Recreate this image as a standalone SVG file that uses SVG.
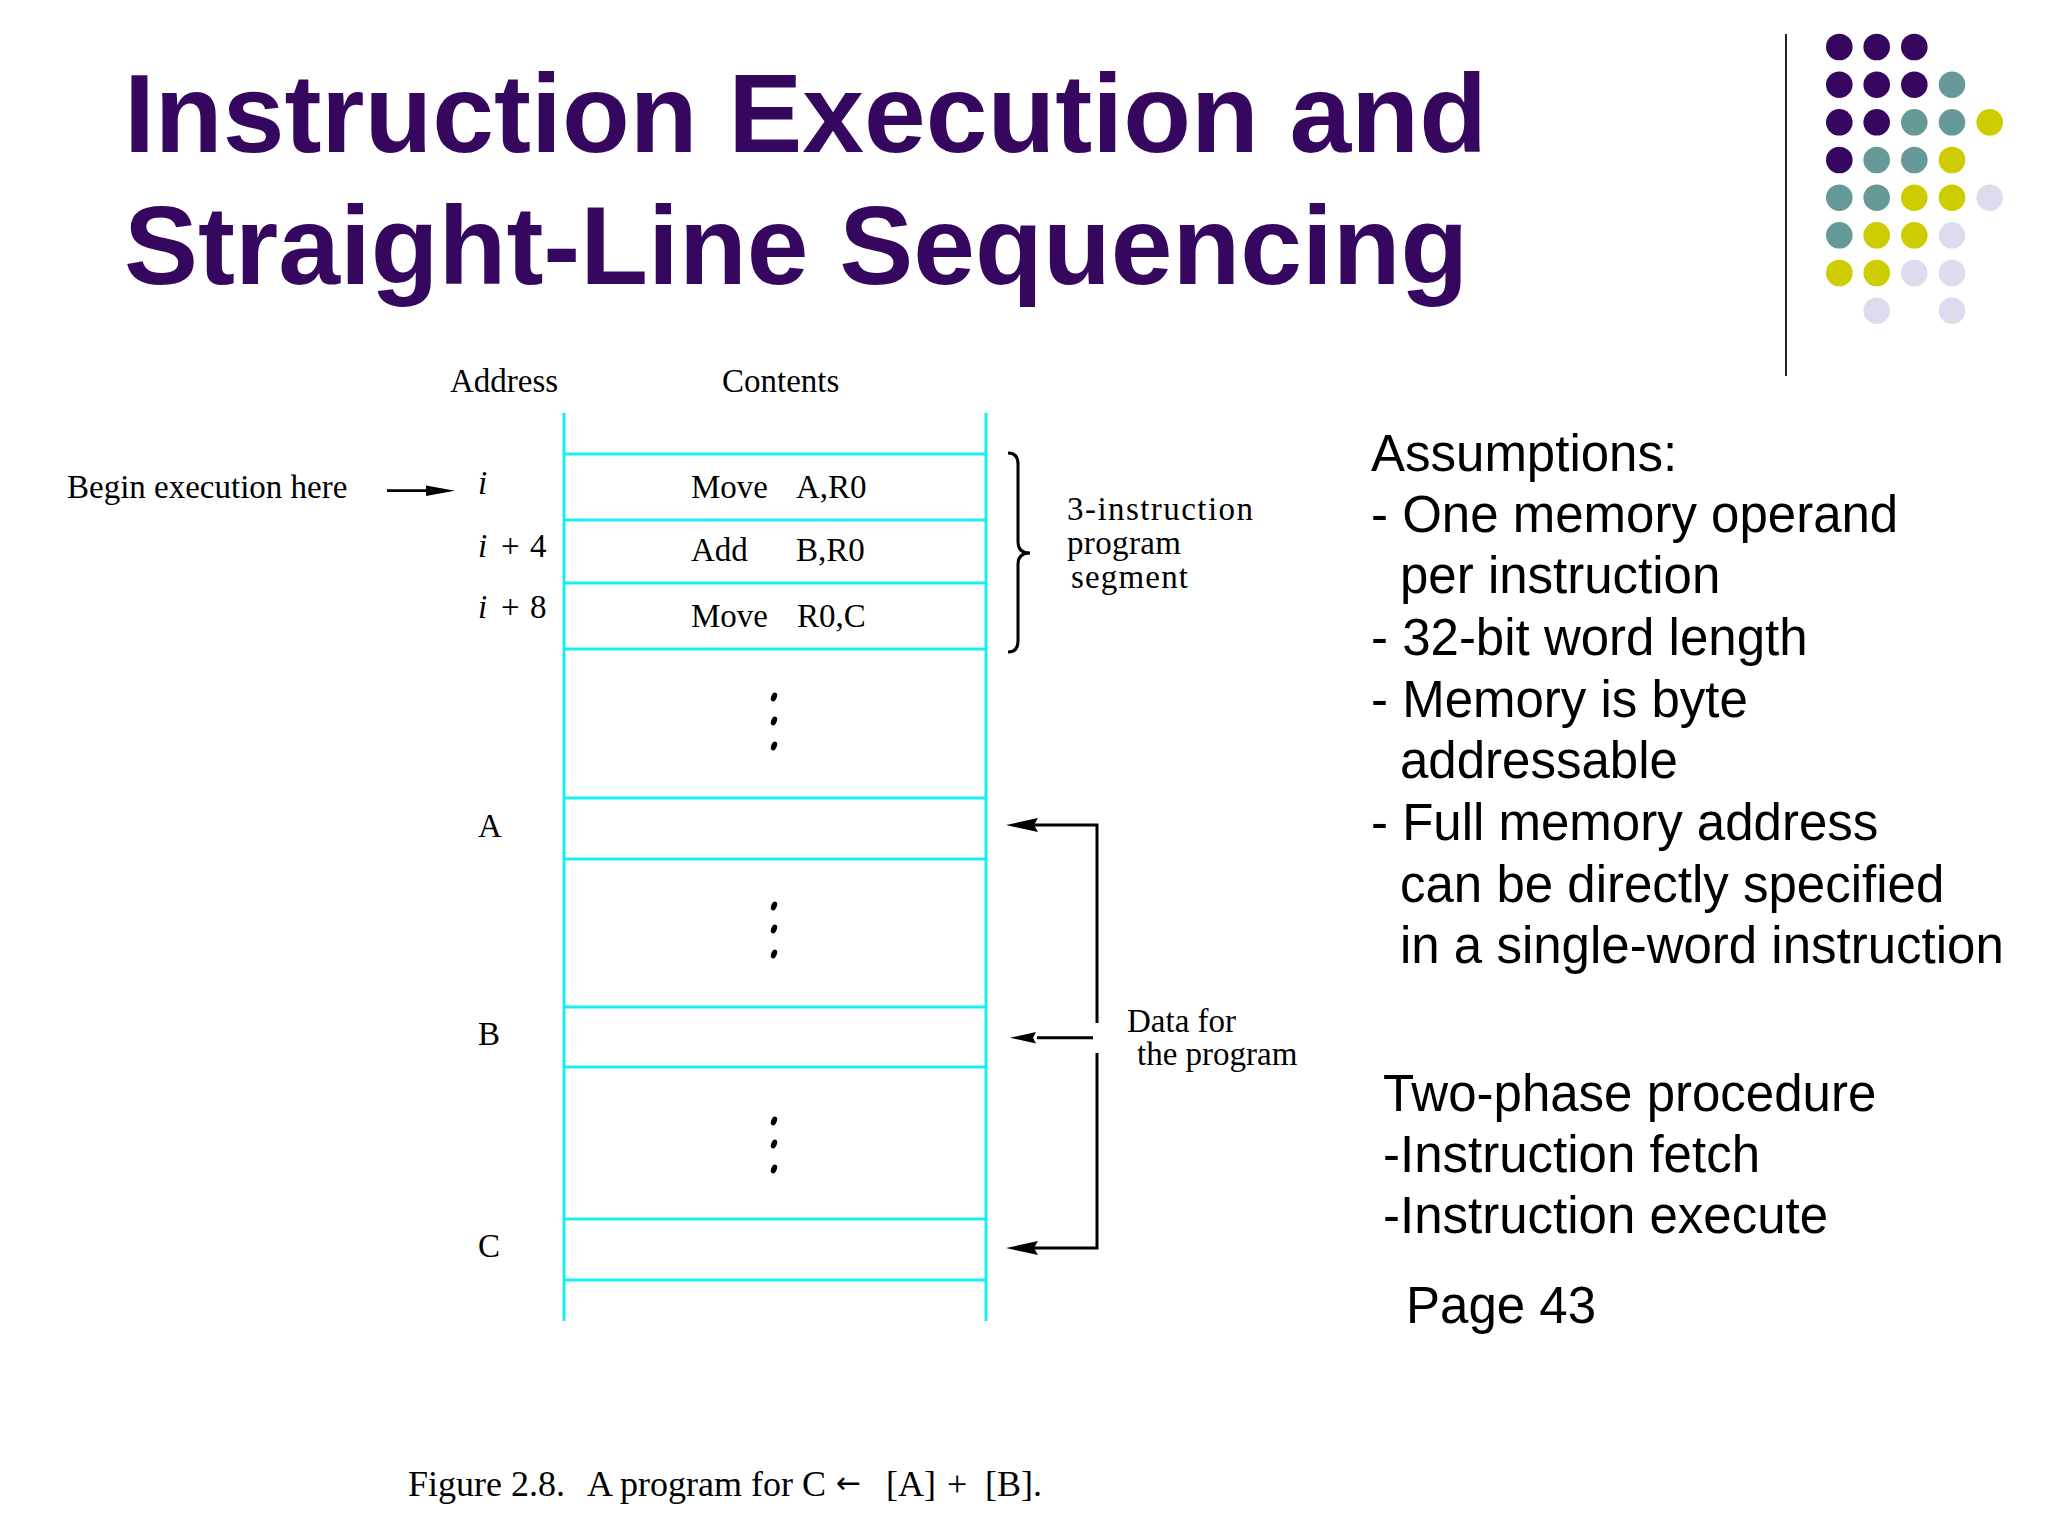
<svg xmlns="http://www.w3.org/2000/svg" width="2048" height="1536" viewBox="0 0 2048 1536">
<style>
.title{font-family:"Liberation Sans",Arial,sans-serif;font-weight:bold;font-size:111px;fill:#35075f}
.side{font-family:"Liberation Sans",Arial,sans-serif;font-size:51px;fill:#000}
.ser{font-family:"Liberation Serif","Times New Roman",serif;font-size:33px;fill:#000}
.cap{font-family:"Liberation Serif","Times New Roman",serif;font-size:36px;fill:#000}
.cy{stroke:#18eef0;stroke-width:3;fill:none}
.ln{stroke:#000;stroke-width:3;fill:none}
.ah{fill:#000}
.p{fill:#35075f}.t{fill:#669a99}.y{fill:#cccc00}.l{fill:#dcdcee}
</style>
<rect width="2048" height="1536" fill="#fff"/>

<g id="title">
<text class="title" x="124" y="152">Instruction Execution and</text>
<text class="title" x="124" y="284">Straight-Line Sequencing</text>
</g>

<g id="separator"><line x1="1786" y1="34" x2="1786" y2="376" stroke="#222" stroke-width="2"/></g>

<g id="dots">
<circle class="p" cx="1839.3" cy="47" r="13.3"/><circle class="p" cx="1876.7" cy="47" r="13.3"/><circle class="p" cx="1914.3" cy="47" r="13.3"/>
<circle class="p" cx="1839.3" cy="84.7" r="13.3"/><circle class="p" cx="1876.7" cy="84.7" r="13.3"/><circle class="p" cx="1914.3" cy="84.7" r="13.3"/><circle class="t" cx="1952" cy="84.7" r="13.3"/>
<circle class="p" cx="1839.3" cy="122.3" r="13.3"/><circle class="p" cx="1876.7" cy="122.3" r="13.3"/><circle class="t" cx="1914.3" cy="122.3" r="13.3"/><circle class="t" cx="1952" cy="122.3" r="13.3"/><circle class="y" cx="1989.7" cy="122.3" r="13.3"/>
<circle class="p" cx="1839.3" cy="160" r="13.3"/><circle class="t" cx="1876.7" cy="160" r="13.3"/><circle class="t" cx="1914.3" cy="160" r="13.3"/><circle class="y" cx="1952" cy="160" r="13.3"/>
<circle class="t" cx="1839.3" cy="197.7" r="13.3"/><circle class="t" cx="1876.7" cy="197.7" r="13.3"/><circle class="y" cx="1914.3" cy="197.7" r="13.3"/><circle class="y" cx="1952" cy="197.7" r="13.3"/><circle class="l" cx="1989.7" cy="197.7" r="13.3"/>
<circle class="t" cx="1839.3" cy="235.3" r="13.3"/><circle class="y" cx="1876.7" cy="235.3" r="13.3"/><circle class="y" cx="1914.3" cy="235.3" r="13.3"/><circle class="l" cx="1952" cy="235.3" r="13.3"/>
<circle class="y" cx="1839.3" cy="273" r="13.3"/><circle class="y" cx="1876.7" cy="273" r="13.3"/><circle class="l" cx="1914.3" cy="273" r="13.3"/><circle class="l" cx="1952" cy="273" r="13.3"/>
<circle class="l" cx="1876.7" cy="310.7" r="13.3"/><circle class="l" cx="1952" cy="310.7" r="13.3"/>
</g>

<g id="headers">
<text class="ser" x="450" y="392">Address</text>
<text class="ser" x="722" y="392">Contents</text>
</g>

<g id="memory">
<line class="cy" x1="564" y1="413" x2="564" y2="1321"/>
<line class="cy" x1="986" y1="413" x2="986" y2="1321"/>
<line class="cy" x1="564" y1="454" x2="986" y2="454"/>
<line class="cy" x1="564" y1="520" x2="986" y2="520"/>
<line class="cy" x1="564" y1="583" x2="986" y2="583"/>
<line class="cy" x1="564" y1="649" x2="986" y2="649"/>
<line class="cy" x1="564" y1="798" x2="986" y2="798"/>
<line class="cy" x1="564" y1="859" x2="986" y2="859"/>
<line class="cy" x1="564" y1="1007" x2="986" y2="1007"/>
<line class="cy" x1="564" y1="1067" x2="986" y2="1067"/>
<line class="cy" x1="564" y1="1219" x2="986" y2="1219"/>
<line class="cy" x1="564" y1="1280" x2="986" y2="1280"/>
</g>

<g id="cell-i"><text class="ser" x="691" y="498">Move</text><text class="ser" x="796" y="498">A,R0</text></g>
<g id="cell-i4"><text class="ser" x="691" y="561">Add</text><text class="ser" x="796" y="561">B,R0</text></g>
<g id="cell-i8"><text class="ser" x="691" y="627">Move</text><text class="ser" x="797" y="627">R0,C</text></g>

<g id="ellipses" fill="#000">
<ellipse cx="774" cy="697" rx="2.8" ry="4.6" transform="rotate(22 774 697)"/>
<ellipse cx="774" cy="721" rx="2.8" ry="4.6" transform="rotate(22 774 721)"/>
<ellipse cx="774" cy="746" rx="2.8" ry="4.6" transform="rotate(22 774 746)"/>
<ellipse cx="774" cy="906" rx="2.8" ry="4.6" transform="rotate(22 774 906)"/>
<ellipse cx="774" cy="929" rx="2.8" ry="4.6" transform="rotate(22 774 929)"/>
<ellipse cx="774" cy="954" rx="2.8" ry="4.6" transform="rotate(22 774 954)"/>
<ellipse cx="774" cy="1121" rx="2.8" ry="4.6" transform="rotate(22 774 1121)"/>
<ellipse cx="774" cy="1144" rx="2.8" ry="4.6" transform="rotate(22 774 1144)"/>
<ellipse cx="774" cy="1169" rx="2.8" ry="4.6" transform="rotate(22 774 1169)"/>
</g>

<g id="addresses">
<text class="ser" x="478" y="494" font-style="italic">i</text>
<text class="ser" y="557"><tspan x="478" font-style="italic">i</tspan><tspan x="501">+</tspan><tspan x="530">4</tspan></text>
<text class="ser" y="618"><tspan x="478" font-style="italic">i</tspan><tspan x="501">+</tspan><tspan x="530">8</tspan></text>
<text class="ser" x="478" y="837">A</text>
<text class="ser" x="478" y="1045">B</text>
<text class="ser" x="478" y="1257">C</text>
</g>

<g id="begin-label"><text class="ser" x="67" y="498" font-size="34">Begin execution here</text></g>
<g id="segment-label">
<text class="ser" x="1067" y="520" font-size="35" textLength="186">3-instruction</text>
<text class="ser" x="1067" y="554" font-size="34" textLength="114">program</text>
<text class="ser" x="1071" y="588" font-size="34" textLength="117">segment</text>
</g>
<g id="data-label">
<text class="ser" x="1127" y="1032" font-size="34">Data for</text>
<text class="ser" x="1137" y="1065" font-size="34">the program</text>
</g>

<g id="connectors">
<line x1="387" y1="490.7" x2="432" y2="490.7" stroke="#000" stroke-width="2.7"/>
<polygon class="ah" points="455,490.7 426,485.5 426,496"/>
<path class="ln" d="M1008,453 Q1018,453 1018,464 L1018,542 Q1018,553 1030,553 Q1018,553 1018,564 L1018,641 Q1018,652 1008,652"/>
<polyline class="ln" points="1033,825 1097,825 1097,1023"/>
<polygon class="ah" points="1006,825 1038,818 1034,825 1038,832"/>
<line class="ln" x1="1037" y1="1037.7" x2="1093" y2="1037.7"/>
<polygon class="ah" points="1010,1037.7 1036,1032 1033,1037.7 1036,1043.4"/>
<polyline class="ln" points="1097,1053 1097,1248 1033,1248"/>
<polygon class="ah" points="1006,1248 1038,1241 1034,1248 1038,1255"/>
</g>

<g id="assumptions">
<text class="side" x="1371" y="471">Assumptions:</text>
<text class="side" x="1371" y="532">- One memory operand</text>
<text class="side" x="1400" y="593">per instruction</text>
<text class="side" x="1371" y="655">- 32-bit word length</text>
<text class="side" x="1371" y="716.5">- Memory is byte</text>
<text class="side" x="1400" y="778">addressable</text>
<text class="side" x="1371" y="840">- Full memory address</text>
<text class="side" x="1400" y="901.5">can be directly specified</text>
<text class="side" x="1400" y="963">in a single-word instruction</text>
</g>

<g id="procedure">
<text class="side" x="1383" y="1110.7">Two-phase procedure</text>
<text class="side" x="1383" y="1171.7">-Instruction fetch</text>
<text class="side" x="1383" y="1232.7">-Instruction execute</text>
<text class="side" x="1406" y="1323.3">Page 43</text>
</g>

<g id="caption">
<text class="cap" x="408" y="1496">Figure 2.8.</text>
<text class="cap" x="587" y="1496">A program for C</text>
<text x="836" y="1493" font-family="DejaVu Sans, sans-serif" font-size="30">←</text>
<text class="cap" x="886" y="1496">[A]</text>
<text class="cap" x="947" y="1496">+</text>
<text class="cap" x="985" y="1496">[B].</text>
</g>
</svg>
